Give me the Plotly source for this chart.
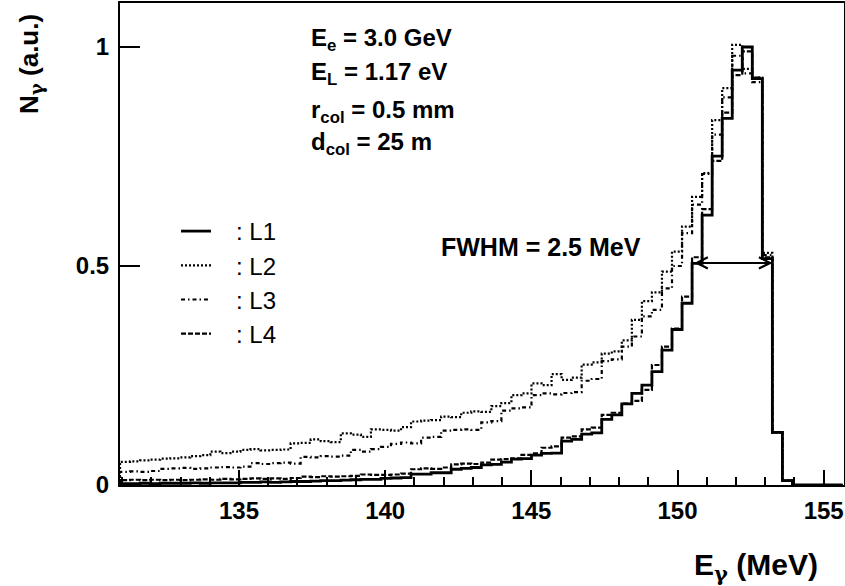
import plotly.graph_objects as go

# ---------------- data ----------------
BIN_LO = 130.93      # lower edge of first bin (MeV)
BIN_W = 0.3433       # bin width (MeV)
N_BINS = 72

L1 = [0.003, 0.003, 0.004, 0.003, 0.004, 0.004, 0.004, 0.005, 0.004, 0.005,
      0.005, 0.005, 0.006, 0.006, 0.007, 0.006, 0.007, 0.008, 0.008, 0.009,
      0.010, 0.010, 0.011, 0.012, 0.013, 0.013, 0.015, 0.016, 0.017, 0.025,
      0.025, 0.028, 0.028, 0.036, 0.038, 0.040, 0.046, 0.047, 0.052, 0.059,
      0.060, 0.068, 0.072, 0.073, 0.100, 0.104, 0.116, 0.119, 0.150, 0.160,
      0.185, 0.209, 0.228, 0.259, 0.308, 0.355, 0.415, 0.506, 0.616, 0.751,
      0.837, 0.947, 1.000, 0.928, 0.517, 0.120, 0.010, 0.0, 0.0, 0.0,
      0.0, 0.0]

L2 = [0.053, 0.054, 0.056, 0.058, 0.060, 0.061, 0.063, 0.066, 0.068, 0.076,
      0.073, 0.076, 0.080, 0.082, 0.079, 0.080, 0.081, 0.095, 0.096, 0.104,
      0.100, 0.098, 0.118, 0.115, 0.110, 0.127, 0.126, 0.124, 0.132, 0.145,
      0.147, 0.148, 0.156, 0.155, 0.165, 0.168, 0.167, 0.180, 0.187, 0.205,
      0.209, 0.232, 0.228, 0.253, 0.240, 0.245, 0.275, 0.280, 0.300, 0.305,
      0.330, 0.377, 0.420, 0.440, 0.487, 0.533, 0.590, 0.658, 0.712, 0.833,
      0.906, 1.005, 0.950, 0.930, 0.530, 0.120, 0.010, 0.0, 0.0, 0.0,
      0.0, 0.0]

L3 = [0.030, 0.031, 0.030, 0.032, 0.037, 0.038, 0.039, 0.037, 0.038, 0.040,
      0.041, 0.040, 0.042, 0.050, 0.048, 0.050, 0.051, 0.049, 0.064, 0.063,
      0.066, 0.065, 0.067, 0.080, 0.076, 0.082, 0.087, 0.094, 0.097, 0.095,
      0.108, 0.110, 0.124, 0.126, 0.127, 0.126, 0.143, 0.146, 0.170, 0.175,
      0.177, 0.205, 0.209, 0.207, 0.210, 0.212, 0.238, 0.242, 0.283, 0.287,
      0.316, 0.339, 0.385, 0.400, 0.449, 0.500, 0.575, 0.640, 0.710, 0.800,
      0.885, 0.980, 0.940, 0.920, 0.525, 0.120, 0.010, 0.0, 0.0, 0.0,
      0.0, 0.0]

L4 = [0.011, 0.012, 0.011, 0.012, 0.011, 0.012, 0.011, 0.012, 0.013, 0.012,
      0.014, 0.013, 0.014, 0.015, 0.014, 0.015, 0.014, 0.016, 0.019, 0.018,
      0.020, 0.019, 0.020, 0.021, 0.024, 0.023, 0.023, 0.024, 0.026, 0.036,
      0.038, 0.037, 0.040, 0.047, 0.049, 0.048, 0.051, 0.058, 0.059, 0.061,
      0.069, 0.072, 0.085, 0.088, 0.108, 0.111, 0.127, 0.131, 0.160, 0.165,
      0.186, 0.192, 0.217, 0.274, 0.316, 0.357, 0.430, 0.520, 0.630, 0.740,
      0.850, 0.936, 0.990, 0.930, 0.520, 0.120, 0.010, 0.0, 0.0, 0.0,
      0.0, 0.0]

SERIES = [(": L1", L1), (": L2", L2), (": L3", L3), (": L4", L4)]
X_TICKS = [135, 140, 145, 150, 155]
Y_TICKS = [0, 0.5, 1]
Y_TICK_LABELS = ["0", "0.5", "1"]
FWHM_LO, FWHM_HI, FWHM_LEVEL = 150.52, 153.25, 0.507

# ---------------- styling ----------------
FONT = "Liberation Sans, Arial, sans-serif"
GAMMA = '<span style="font-family:DejaVu Serif">γ</span>'
STYLES = [dict(dash="solid", width=2.8),
          dict(dash="2px,2px", width=2.2),
          dict(dash="4px,3px,1.5px,3px", width=2.2),
          dict(dash="5px,2px", width=2.2)]

edges = [BIN_LO + i * BIN_W for i in range(N_BINS + 1)]

fig = go.Figure()
for (name, vals), st in zip(SERIES, STYLES):
    xs = [edges[0]] + edges
    ys = [0.0] + list(vals) + [vals[-1]]
    fig.add_trace(go.Scatter(
        x=xs, y=ys, mode="lines", line_shape="hv",
        name="\u00a0\u00a0\u00a0" + name, legendgroup=name,
        line=dict(color="black", dash=st["dash"], width=st["width"]),
        hoverinfo="skip"))

# plot area in pixels: left 120, right 844, top 3, bottom 485
L, R, T, B = 120, 844, 3, 485
W, H = 845, 586


def px(x):
    return (x - L) / (R - L)


def py(y):
    return (B - y) / (B - T)


x_lo = BIN_LO
x_hi = BIN_LO + (R - L) / 29.235

fig.update_layout(
    width=W, height=H,
    margin=dict(l=L, r=W - R, t=T, b=H - B, autoexpand=False),
    paper_bgcolor="white", plot_bgcolor="white",
    font=dict(family=FONT, color="black"),
    showlegend=True,
    legend=dict(x=px(176), y=py(209), xanchor="left", yanchor="top",
                font=dict(size=24, family=FONT), bgcolor="rgba(0,0,0,0)",
                tracegroupgap=0),
    xaxis=dict(range=[x_lo, x_hi], tickvals=X_TICKS,
               ticktext=["<b>%d</b>" % t for t in X_TICKS],
               ticks="inside", ticklen=15, tickwidth=1.5, tickcolor="black",
               minor=dict(dtick=1, ticks="inside", ticklen=8, tickwidth=1.5,
                          tickcolor="black"),
               showline=True, linewidth=2, linecolor="black", mirror=True,
               showgrid=False, zeroline=False, automargin=False,
               tickfont=dict(size=24, family=FONT),
               ticklabelstandoff=3),
    yaxis=dict(range=[0, (B - T) / 438.0], tickvals=Y_TICKS,
               ticktext=["<b>%s</b>" % t for t in Y_TICK_LABELS],
               ticks="inside", ticklen=20, tickwidth=1.5, tickcolor="black",
               showline=True, linewidth=2, linecolor="black", mirror=True,
               showgrid=False, zeroline=False, automargin=False,
               tickfont=dict(size=24, family=FONT),
               ticklabelstandoff=4),
)

ann = []
# parameter block
for txt, yy in [("E<sub>e</sub> = 3.0 GeV", 40),
                ("E<sub>L</sub> = 1.17 eV", 73),
                ("r<sub>col</sub> = 0.5 mm", 112),
                ("d<sub>col</sub> = 25 m", 144)]:
    ann.append(dict(x=px(309), y=py(yy), xref="paper", yref="paper",
                    text="<b>%s</b>" % txt, showarrow=False,
                    xanchor="left", yanchor="middle",
                    font=dict(size=24, family=FONT)))
# FWHM text
ann.append(dict(x=px(439), y=py(247), xref="paper", yref="paper",
                text="<b>FWHM = 2.5 MeV</b>", showarrow=False,
                xanchor="left", yanchor="middle",
                font=dict(size=25, family=FONT)))
# FWHM double arrow
ann.append(dict(x=FWHM_HI, y=FWHM_LEVEL, ax=FWHM_LO, ay=FWHM_LEVEL,
                xref="x", yref="y", axref="x", ayref="y", text="",
                showarrow=True, arrowside="end+start", arrowhead=5,
                startarrowhead=5, arrowsize=1.1, startarrowsize=1.1,
                arrowwidth=2, arrowcolor="black"))
# axis titles
ann.append(dict(x=px(820), y=py(567), xref="paper", yref="paper",
                text="<b>E<sub>%s</sub> (MeV)</b>" % GAMMA, showarrow=False,
                xanchor="right", yanchor="middle",
                font=dict(size=30, family=FONT)))
ann.append(dict(x=px(30), y=py(12), xref="paper", yref="paper",
                text="<b>N<sub>%s</sub> (a.u.)</b>" % GAMMA, showarrow=False,
                textangle=-90, xanchor="center", yanchor="top",
                font=dict(size=26, family=FONT)))
fig.update_layout(annotations=ann)

fig.write_html("out.html", config={"displayModeBar": False},
               post_script="document.body.style.margin='0px';")
